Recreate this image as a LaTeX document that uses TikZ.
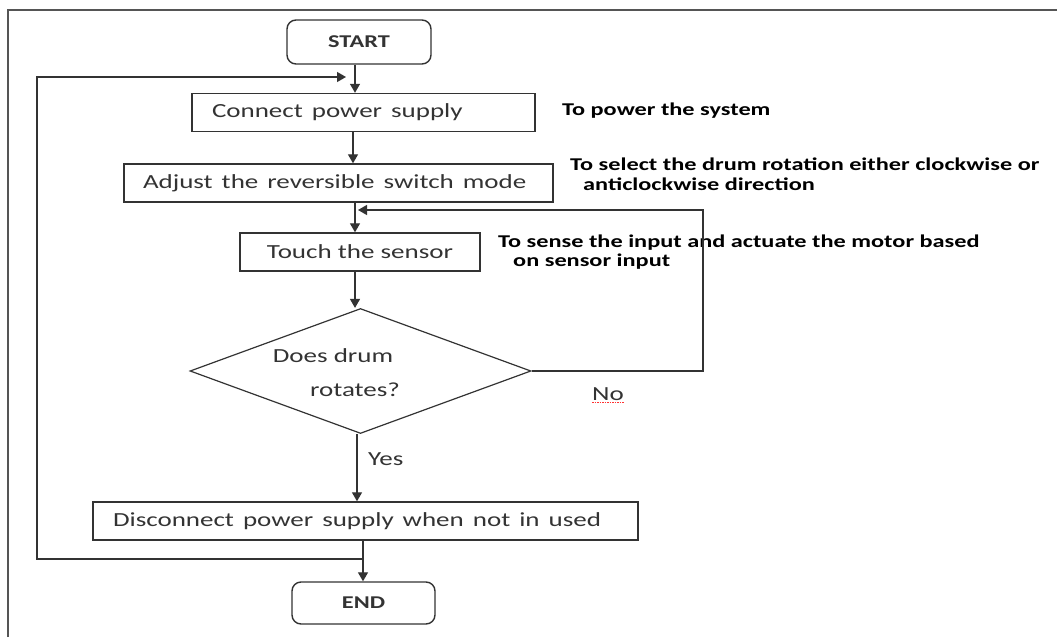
\documentclass[tikz,border=0pt]{standalone}
\usepackage{fontspec}
\setmainfont{Carlito}
\usepackage{graphicx}
\usetikzlibrary{arrows.meta,shapes.geometric}
\newcommand\hs[1]{\scalebox{1.35}[1]{#1}}
\definecolor{ln}{HTML}{333333}
\definecolor{fr}{HTML}{555555}
\begin{document}
\begin{tikzpicture}[x=1pt,y=-1pt,
  box/.style={draw=ln, line width=1.4pt, rectangle, minimum height=38pt,
    inner ysep=0pt, font=\fontsize{20}{24}\selectfont, text=ln},
  term/.style={box, rounded corners=9pt, font=\bfseries\fontsize{18}{22}\selectfont},
  dia/.style={draw=ln, line width=1.2pt, diamond, inner sep=0pt},
  note/.style={anchor=west, inner sep=0pt, font=\bfseries\fontsize{18}{22}\selectfont, text=black},
  lbl/.style={inner sep=0pt, font=\fontsize{20}{24}\selectfont, text=ln},
  arr/.style={draw=ln, line width=1.3pt, -{Triangle[width=10pt,length=9pt]}},
  wire/.style={draw=ln, line width=1.3pt}
]
\useasboundingbox (0,0) rectangle (1057,637);
\draw[draw=fr, line width=1.5pt] (8,637) -- (8,10) -- (1057,10);

% nodes
\node[term, minimum width=144pt, minimum height=44pt] (start) at (359,42) {\hs{START}};
\node[box, text width=303pt, inner xsep=20pt, align=left] (connect) at (363.5,112.5) {\hs{Connect power supply}};
\node[box, text width=391pt, inner xsep=19pt, align=left] (adjust) at (338.5,183) {\hs{Adjust the reversible switch mode}};
\node[box, minimum width=240pt] (touch) at (360,252) {\hs{Touch the sensor}};
\node[dia, minimum width=341pt, minimum height=125pt] (dec) at (360.5,371) {};
\node[lbl] (d1) at (333,356) {\hs{Does drum}};
\node[lbl] (d2) at (355,390) {\hs{rotates?}};
\node[box, text width=505pt, inner xsep=20pt, align=left] (disc) at (365.5,521) {\hs{Disconnect power supply when not in used}};
\node[term, minimum width=143pt, minimum height=42pt] (end) at (363.5,603) {\hs{END}};

% annotations
\node[note] (n1) at (562,111) {\hs{To power the system}};
\node[note] (n2a) at (570,164) {\hs{To select the drum rotation either clockwise or}};
\node[note] (n2b) at (583,184) {\hs{anticlockwise direction}};
\node[note] (n3a) at (498,243) {\hs{To sense the input and actuate the motor based}};
\node[note] (n3b) at (513,262) {\hs{on sensor input}};
\node[lbl, anchor=west] (no) at (592,394) {\hs{No}};
\node[lbl, anchor=west] (yes) at (368,459) {\hs{Yes}};
\draw[red!80, line width=0.6pt, dash pattern=on 1.5pt off 1pt] (no.south west) ++(0,2) -- ++(32,0);

% helper coordinates
\coordinate (xa) at (355,0);
\coordinate (xb) at (353,0);
\coordinate (xc) at (357,0);
\coordinate (xd) at (363,0);
\coordinate (nr) at (703,210);
\coordinate (jn) at (358,210);
\coordinate (j2) at (363,559);
\coordinate (lb) at (37,559);
\coordinate (lt) at (37,77);
\coordinate (j1) at (346,77);

% connectors
\draw[arr] (start.south -| xa) -- (connect.north -| xa);
\draw[arr] (connect.south -| xb) -- (adjust.north -| xb);
\draw[arr] (adjust.south -| xa) -- (touch.north -| xa);
\draw[arr] (touch.south -| xa) -- (dec.north -| xa);
\draw[arr] (dec.south -| xc) -- (disc.north -| xc);
\draw[arr] (disc.south -| xd) -- (end.north -| xd);
\draw[arr] (dec.east) -| (nr) -- (jn);
\draw[arr] (j2) -- (lb) -- (lt) -- (j1);
\end{tikzpicture}
\end{document}
